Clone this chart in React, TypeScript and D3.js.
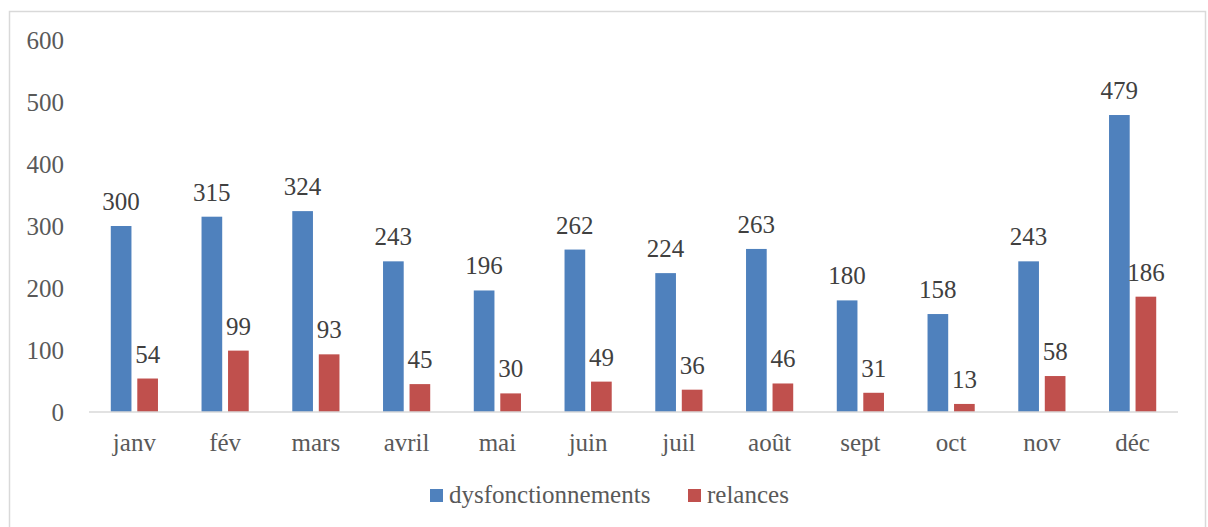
import React from 'react'
import * as d3 from 'd3'

const months = ['janv', 'fév', 'mars', 'avril', 'mai', 'juin', 'juil', 'août', 'sept', 'oct', 'nov', 'déc']
const dysfonctionnements = [300, 315, 324, 243, 196, 262, 224, 263, 180, 158, 243, 479]
const relances = [54, 99, 93, 45, 30, 49, 36, 46, 31, 13, 58, 186]
const yTicks = [0, 100, 200, 300, 400, 500, 600]

const series = [
    { name: 'dysfonctionnements', values: dysfonctionnements, color: '#4F81BD' },
    { name: 'relances', values: relances, color: '#C0504D' },
]

const W = 1208
const H = 527
const FONT = "'Liberation Serif', 'DejaVu Serif', serif"
const TEXT = '#595959'

const App = () => {
    const margin = { top: 40, right: 30, bottom: 115, left: 89 }

    // one band per month across the plot
    const x = d3
        .scaleBand()
        .domain(months)
        .range([margin.left, W - margin.right])
        .padding(0)

    const y = d3.scaleLinear().domain([0, 600]).range([412, 40])

    // two bars inside each month, with a small gap between them
    const inner = d3
        .scaleBand()
        .domain(series.map((s) => s.name))
        .range([x.bandwidth() * 0.24, x.bandwidth() * 0.76])
        .paddingInner(0.22)

    const txt = { fontFamily: FONT, fontSize: 25 }

    return (
        <svg
            width={W}
            height={H}
            style={{ position: 'absolute', left: 0, top: 0, background: '#fff', fontFamily: FONT }}
        >
            {/* outer frame */}
            <rect x={9.5} y={11.5} width={1196} height={530} fill="#fff" stroke="#d9d9d9" strokeWidth={1.5} />

            {/* y tick labels */}
            {yTicks.map((t) => (
                <text key={t} x={64} y={y(t) + 9} textAnchor="end" style={txt} fill={TEXT}>
                    {t}
                </text>
            ))}

            {/* bars and value labels */}
            {months.map((m, i) => (
                <g key={m} transform={`translate(${x(m)},0)`}>
                    {series.map((s) => {
                        const bx = inner(s.name)
                        const v = s.values[i]
                        return (
                            <g key={s.name}>
                                <rect
                                    x={bx}
                                    y={y(v)}
                                    width={inner.bandwidth()}
                                    height={y(0) - y(v)}
                                    fill={s.color}
                                />
                                <text
                                    x={bx + inner.bandwidth() / 2}
                                    y={y(v) - 16}
                                    textAnchor="middle"
                                    style={txt}
                                    fill="#404040"
                                >
                                    {v}
                                </text>
                            </g>
                        )
                    })}
                    <text x={x.bandwidth() / 2} y={451} textAnchor="middle" style={txt} fill={TEXT}>
                        {m}
                    </text>
                </g>
            ))}

            {/* baseline */}
            <line x1={margin.left} x2={W - margin.right} y1={412} y2={412} stroke="#d9d9d9" strokeWidth={1.5} />

            {/* legend */}
            <rect x={430} y={489} width={13} height={13} fill={series[0].color} />
            <text x={449} y={503} style={txt} fill={TEXT}>
                {series[0].name}
            </text>
            <rect x={688} y={489} width={13} height={13} fill={series[1].color} />
            <text x={707} y={503} style={txt} fill={TEXT}>
                {series[1].name}
            </text>
        </svg>
    )
}

export default App
